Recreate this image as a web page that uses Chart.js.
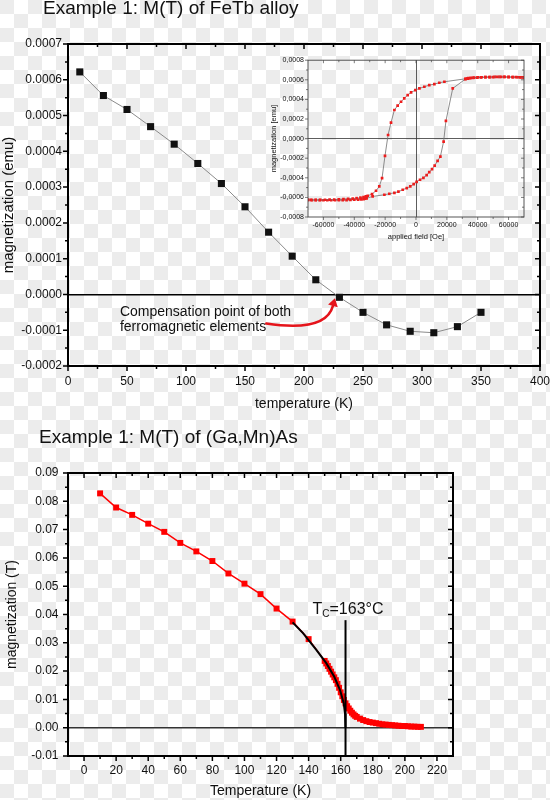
<!DOCTYPE html>
<html>
<head>
<meta charset="utf-8">
<script src="https://cdn.jsdelivr.net/npm/chart.js@4.4.1/dist/chart.umd.min.js"></script>
<style>
  html, body { margin: 0; padding: 0; }
  body {
    width: 550px;
    height: 800px;
    position: relative;
    overflow: hidden;
    background-color: #fff;
    background-image: conic-gradient(#fff 0 25%, #ececec 0 50%, #fff 0 75%, #ececec 0);
    background-size: 28px 28px;
  }
  .box { position: absolute; }
  #fetbBox { left: 0; top: 0; width: 550px; height: 420px; }
  #loopBox { left: 262px; top: 52px; width: 270px; height: 195px; }
  #gamnBox { left: 0; top: 420px; width: 550px; height: 380px; }
</style>
</head>
<body>
<div class="box" id="fetbBox"><canvas id="fetb"></canvas></div>
<div class="box" id="loopBox"><canvas id="loop"></canvas></div>
<div class="box" id="gamnBox"><canvas id="gamn"></canvas></div>
<script>
const FONT = "'Liberation Sans', Arial, sans-serif";

// FeTb alloy, M(T)
const fetbTemp = [10, 30, 50, 70, 90, 110, 130, 150, 170, 190, 210, 230, 250, 270, 290, 310, 330, 350];
const fetbMag = [0.000622, 0.000556, 0.000517, 0.000469, 0.00042, 0.000366, 0.00031, 0.000245, 0.000174,
  0.000107, 0.000041, -0.000008, -0.00005, -0.000085, -0.000103, -0.000107, -0.00009, -0.00005];
const fetbTempTicks = [0, 50, 100, 150, 200, 250, 300, 350, 400];
const fetbMagTicks = [-0.0002, -0.0001, 0, 0.0001, 0.0002, 0.0003, 0.0004, 0.0005, 0.0006, 0.0007];

// annotation anchors (data units)
const noteTemp = 44;
const noteMag = [-0.000059, -0.0001025];
const noteLines = ["Compensation point of both", "ferromagnetic elements"];
const arrowTemp = [168, 198, 220, 224.5];
const arrowMag = [-0.0000813, -0.000096, -0.000088, -0.000032];

// inset: hysteresis loop, field sweeping down
const fieldDown = [70000, 67500, 65000, 62500, 60000, 57500, 55000, 52500, 50000, 47500, 45000, 42500, 40000,
  37500, 35500, 34000, 33000, 32000, 18400, 15100, 11900, 8600, 5400, 2200, -400, -3200, -5400, -7600, -9700,
  -11900, -14000, -16200, -18100, -20100, -22000, -23800, -25900, -28500, -31300, -32500, -34000, -36000,
  -38500, -41000, -44000, -47000, -50000, -53000, -56000, -59000, -62000, -65000, -68000, -70000];
const magDown = [0.000622, 0.000625, 0.000627, 0.000628, 0.000629, 0.000629, 0.000629, 0.000629, 0.000628,
  0.000628, 0.000627, 0.000626, 0.000624, 0.000622, 0.00062, 0.000617, 0.000613, 0.00061, 0.00058, 0.00057,
  0.000556, 0.000546, 0.000529, 0.000512, 0.000495, 0.000471, 0.000444, 0.00041, 0.000376, 0.000336,
  0.000292, 0.000163, 0.000037, -0.000176, -0.000403, -0.000488, -0.000532, -0.000566, -0.000583, -0.00059,
  -0.000597, -0.000603, -0.000608, -0.000612, -0.000615, -0.000618, -0.00062, -0.000622, -0.000623,
  -0.000624, -0.000625, -0.000625, -0.000626, -0.000626];
// field sweeping up
const fieldUp = [-70000, -67500, -65000, -62500, -60000, -57500, -55000, -52500, -50000, -47500, -45000,
  -42500, -40000, -37500, -35500, -34000, -33000, -32000, -28100, -20500, -17300, -14000, -11400, -8600,
  -6000, -3700, -1500, 400, 2600, 4800, 6900, 8600, 10400, 12100, 14000, 15800, 17900, 19400, 23800, 32000,
  33500, 35000, 37000, 39500, 42000, 45000, 48000, 51000, 54000, 57000, 60000, 63000, 66000, 68500, 70000];
const magUp = [-0.000626, -0.000627, -0.000628, -0.000628, -0.000629, -0.000629, -0.000629, -0.000629,
  -0.000628, -0.000628, -0.000627, -0.000626, -0.000624, -0.000622, -0.00062, -0.000617, -0.000613,
  -0.000609, -0.00059, -0.000573, -0.000563, -0.000553, -0.000542, -0.000522, -0.000505, -0.000488,
  -0.000464, -0.000441, -0.00042, -0.0004, -0.000373, -0.000342, -0.000312, -0.000275, -0.000227,
  -0.000183, -0.00003, 0.00018, 0.000512, 0.000607, 0.000612, 0.000616, 0.00062, 0.000623, 0.000625,
  0.000627, 0.000628, 0.000629, 0.000629, 0.000629, 0.000628, 0.000627, 0.000626, 0.000625, 0.000624];
const loopFieldTicks = [-60000, -40000, -20000, 0, 20000, 40000, 60000];
const loopMagTicks = [-0.0008, -0.0006, -0.0004, -0.0002, 0, 0.0002, 0.0004, 0.0006, 0.0008];

// (Ga,Mn)As, M(T)
const gamnTemp = [10, 20, 30, 40, 50, 60, 70, 80, 90, 100, 110, 120, 130, 140,
  150, 151, 152, 153, 154, 155, 156, 157, 158, 159, 160, 161, 162, 163, 164, 165, 166, 167, 168, 169, 170,
  172, 174, 176, 178, 180, 182, 184, 186, 188, 190, 192, 194, 196, 198, 200, 202, 204, 206, 208, 210];
const gamnMag = [0.0828, 0.0778, 0.0752, 0.0721, 0.0692, 0.0653, 0.0623, 0.0589, 0.0545, 0.0509, 0.0472,
  0.0421, 0.0375, 0.0313,
  0.0236, 0.0227, 0.0218, 0.0208, 0.0198, 0.0188, 0.0178, 0.0168, 0.0155, 0.0141, 0.0125, 0.0111, 0.0098,
  0.0086, 0.0076, 0.0068, 0.006, 0.0053, 0.0047, 0.0042, 0.0038,
  0.0032, 0.0027, 0.0023, 0.002, 0.0018, 0.0016, 0.0014, 0.0012, 0.0011, 0.001, 0.0009, 0.0008, 0.0007,
  0.0006, 0.0006, 0.0005, 0.0004, 0.0004, 0.0003, 0.0003];
const fitTemp = [130, 136.5, 144.8, 151, 156, 159.6, 161.9, 162.7, 163];
const fitMag = [0.0372, 0.0334, 0.0275, 0.0228, 0.018, 0.0133, 0.0086, 0.005, 0];
const tcTemp = 163;
const tcMag = [-0.01, 0.038];
const gamnTempTicks = [0, 20, 40, 60, 80, 100, 120, 140, 160, 180, 200, 220];
const gamnMagTicks = [-0.01, 0, 0.01, 0.02, 0.03, 0.04, 0.05, 0.06, 0.07, 0.08, 0.09];

const points = (xs, ys) => xs.map((x, i) => ({ x, y: ys[i] }));

function minorTicks(major, min, max) {
  const step = major[1] - major[0];
  const out = [];
  for (let v = major[0] - step / 2; v < max; v += step) {
    if (v > min) out.push(v);
  }
  return out;
}

// box round the plot with tick marks on all four sides
const framePlugin = {
  id: "frame",
  afterDatasetsDraw(chart, args, opts) {
    const { ctx, chartArea: a } = chart;
    const xs = chart.scales.x;
    const ys = chart.scales.y;
    const xMajor = xs.ticks.map((t) => t.value);
    const yMajor = ys.ticks.map((t) => t.value);
    ctx.save();
    ctx.strokeStyle = opts.color;
    ctx.lineWidth = opts.tickWidth;
    ctx.beginPath();
    const sets = [
      [xMajor, yMajor, opts.major],
      [minorTicks(xMajor, xs.min, xs.max), minorTicks(yMajor, ys.min, ys.max), opts.minor],
    ];
    for (const [xv, yv, len] of sets) {
      for (const v of xv) {
        const px = xs.getPixelForValue(v);
        ctx.moveTo(px, a.bottom);
        ctx.lineTo(px, a.bottom + len);
        ctx.moveTo(px, a.top);
        ctx.lineTo(px, a.top + len);
      }
      for (const v of yv) {
        const py = ys.getPixelForValue(v);
        ctx.moveTo(a.left - len, py);
        ctx.lineTo(a.left, py);
        ctx.moveTo(a.right - len, py);
        ctx.lineTo(a.right, py);
      }
    }
    ctx.stroke();
    ctx.lineWidth = opts.width;
    ctx.strokeRect(a.left, a.top, a.right - a.left, a.bottom - a.top);
    ctx.restore();
  },
};

function linearAxis(min, max, tickValues, o) {
  return {
    type: "linear",
    min,
    max,
    afterBuildTicks: (scale) => {
      scale.ticks = tickValues.map((value) => ({ value }));
    },
    afterFit: o.fit,
    border: { display: false },
    grid: {
      drawTicks: false,
      color: (c) => (o.zero && c.tick && c.tick.value === 0 ? o.zero : "rgba(0,0,0,0)"),
      lineWidth: o.zeroWidth || 1,
    },
    ticks: {
      padding: o.pad,
      color: "#111",
      font: { family: FONT, size: o.size },
      callback: o.format,
      maxRotation: 0,
      autoSkip: false,
    },
    title: {
      display: true,
      text: o.title,
      color: "#111",
      font: { family: FONT, size: o.titleSize },
      padding: o.titlePad,
    },
  };
}

const baseOptions = {
  responsive: true,
  maintainAspectRatio: false,
  animation: false,
  events: [],
};

// top chart
const fetbNotes = {
  id: "fetbNotes",
  afterDraw(chart) {
    const { ctx, scales: { x, y } } = chart;
    ctx.save();
    ctx.fillStyle = "#111";
    ctx.font = `19px ${FONT}`;
    ctx.fillText("Example 1: M(T) of FeTb alloy", 43, 14);
    ctx.font = `14px ${FONT}`;
    noteLines.forEach((line, i) => {
      ctx.fillText(line, x.getPixelForValue(noteTemp), y.getPixelForValue(noteMag[i]));
    });
    const p = arrowTemp.map((t, i) => [x.getPixelForValue(t), y.getPixelForValue(arrowMag[i])]);
    ctx.strokeStyle = "#e5141b";
    ctx.fillStyle = "#e5141b";
    ctx.lineWidth = 2.5;
    ctx.lineCap = "round";
    ctx.beginPath();
    ctx.moveTo(p[0][0], p[0][1]);
    ctx.bezierCurveTo(p[1][0], p[1][1], p[2][0], p[2][1], p[3][0], p[3][1]);
    ctx.stroke();
    let dx = p[3][0] - p[2][0];
    let dy = p[3][1] - p[2][1];
    const len = Math.hypot(dx, dy);
    dx /= len;
    dy /= len;
    const tip = [p[3][0] + dx * 8, p[3][1] + dy * 8];
    ctx.beginPath();
    ctx.moveTo(tip[0], tip[1]);
    ctx.lineTo(p[3][0] - dy * 5, p[3][1] + dx * 5);
    ctx.lineTo(p[3][0] + dy * 5, p[3][1] - dx * 5);
    ctx.closePath();
    ctx.fill();
    ctx.restore();
  },
};

new Chart(document.getElementById("fetb"), {
  type: "line",
  data: {
    datasets: [
      {
        data: points(fetbTemp, fetbMag),
        borderColor: "#8a8a8a",
        borderWidth: 1,
        pointStyle: "rect",
        pointRadius: 5,
        pointBackgroundColor: "#111",
        pointBorderWidth: 0,
        tension: 0,
      },
    ],
  },
  options: {
    ...baseOptions,
    layout: { padding: { left: 0, top: 44, right: 10, bottom: 0 } },
    plugins: {
      legend: { display: false },
      tooltip: { enabled: false },
      frame: { color: "#000", width: 2, tickWidth: 1.5, major: 5, minor: 3 },
    },
    scales: {
      x: linearAxis(0, 400, fetbTempTicks, {
        // keep the "400" label from pulling the plot edge inwards
        fit: (s) => { s.height = 54; s.paddingRight = 0; },
        pad: 8.5,
        size: 12,
        format: (v) => String(v),
        title: "temperature (K)",
        titleSize: 14,
        titlePad: { top: 0, bottom: 7 },
      }),
      y: linearAxis(-0.0002, 0.0007, fetbMagTicks, {
        fit: (s) => { s.width = 68; },
        pad: 6,
        size: 12,
        format: (v) => v.toFixed(4),
        title: "magnetization (emu)",
        titleSize: 15,
        titlePad: { top: 0, bottom: 0 },
        zero: "#000",
        zeroWidth: 1.5,
      }),
    },
  },
  plugins: [framePlugin, fetbNotes],
});

// inset
new Chart(document.getElementById("loop"), {
  type: "line",
  data: {
    datasets: [fieldDown, fieldUp].map((field, i) => ({
      data: points(field, i === 0 ? magDown : magUp),
      borderColor: "#707070",
      borderWidth: 0.8,
      pointStyle: "rect",
      pointRadius: 1.9,
      pointBackgroundColor: "#ee1c1c",
      pointBorderWidth: 0,
      tension: 0,
    })),
  },
  options: {
    ...baseOptions,
    layout: { padding: { left: 0, top: 7, right: 8, bottom: 0 } },
    plugins: {
      legend: { display: false },
      tooltip: { enabled: false },
      frame: { color: "#444", width: 0.9, tickWidth: 0.7, major: 3, minor: 2 },
    },
    scales: {
      x: linearAxis(-70000, 70000, loopFieldTicks, {
        fit: (s) => { s.height = 30; },
        pad: 3.8,
        size: 7,
        format: (v) => String(v),
        title: "applied field [Oe]",
        titleSize: 7.5,
        titlePad: { top: 0, bottom: 5.5 },
        zero: "#333",
        zeroWidth: 0.8,
      }),
      y: linearAxis(-0.0008, 0.0008, loopMagTicks, {
        fit: (s) => { s.width = 46; },
        pad: 4,
        size: 7,
        format: (v) => v.toFixed(4).replace(".", ","),
        title: "magnetization [emu]",
        titleSize: 7.5,
        titlePad: { top: 7.5, bottom: 0 },
        zero: "#333",
        zeroWidth: 0.8,
      }),
    },
  },
  plugins: [framePlugin],
});

// bottom chart
const gamnNotes = {
  id: "gamnNotes",
  afterDraw(chart) {
    const { ctx, scales: { x, y } } = chart;
    ctx.save();
    ctx.fillStyle = "#111";
    ctx.font = `19px ${FONT}`;
    ctx.fillText("Example 1: M(T) of (Ga,Mn)As", 39, 23);
    let px = x.getPixelForValue(tcTemp) - 33;
    const base = y.getPixelForValue(tcMag[1]) - 6;
    ctx.font = `16px ${FONT}`;
    ctx.fillText("T", px, base);
    px += ctx.measureText("T").width;
    ctx.font = `10px ${FONT}`;
    ctx.fillText("C", px, base + 3);
    px += ctx.measureText("C").width;
    ctx.font = `16px ${FONT}`;
    ctx.fillText("=163°C", px, base);
    ctx.restore();
  },
};

new Chart(document.getElementById("gamn"), {
  type: "line",
  data: {
    datasets: [
      {
        data: points([tcTemp, tcTemp], tcMag),
        borderColor: "#000",
        borderWidth: 2,
        pointRadius: 0,
      },
      {
        data: points(fitTemp, fitMag),
        borderColor: "#000",
        borderWidth: 2,
        pointRadius: 0,
        tension: 0,
      },
      {
        data: points(gamnTemp, gamnMag),
        borderColor: "#f00",
        borderWidth: 1.5,
        pointStyle: "rect",
        pointRadius: 4.2,
        pointBackgroundColor: "#f00",
        pointBorderWidth: 0,
        tension: 0,
      },
    ],
  },
  options: {
    ...baseOptions,
    layout: { padding: { left: 0, top: 53, right: 97, bottom: 0 } },
    plugins: {
      legend: { display: false },
      tooltip: { enabled: false },
      frame: { color: "#000", width: 2, tickWidth: 1.5, major: 5, minor: 3 },
    },
    scales: {
      x: linearAxis(-10, 230, gamnTempTicks, {
        fit: (s) => { s.height = 44; },
        pad: 7.5,
        size: 12,
        format: (v) => String(v),
        title: "Temperature (K)",
        titleSize: 14,
        titlePad: { top: 0, bottom: 0 },
      }),
      y: linearAxis(-0.01, 0.09, gamnMagTicks, {
        fit: (s) => { s.width = 68; },
        pad: 9.5,
        size: 12,
        format: (v) => v.toFixed(2),
        title: "magnetization (T)",
        titleSize: 14,
        titlePad: { top: 3.6, bottom: 0 },
        zero: "#333",
        zeroWidth: 1.5,
      }),
    },
  },
  plugins: [framePlugin, gamnNotes],
});
</script>
</body>
</html>
